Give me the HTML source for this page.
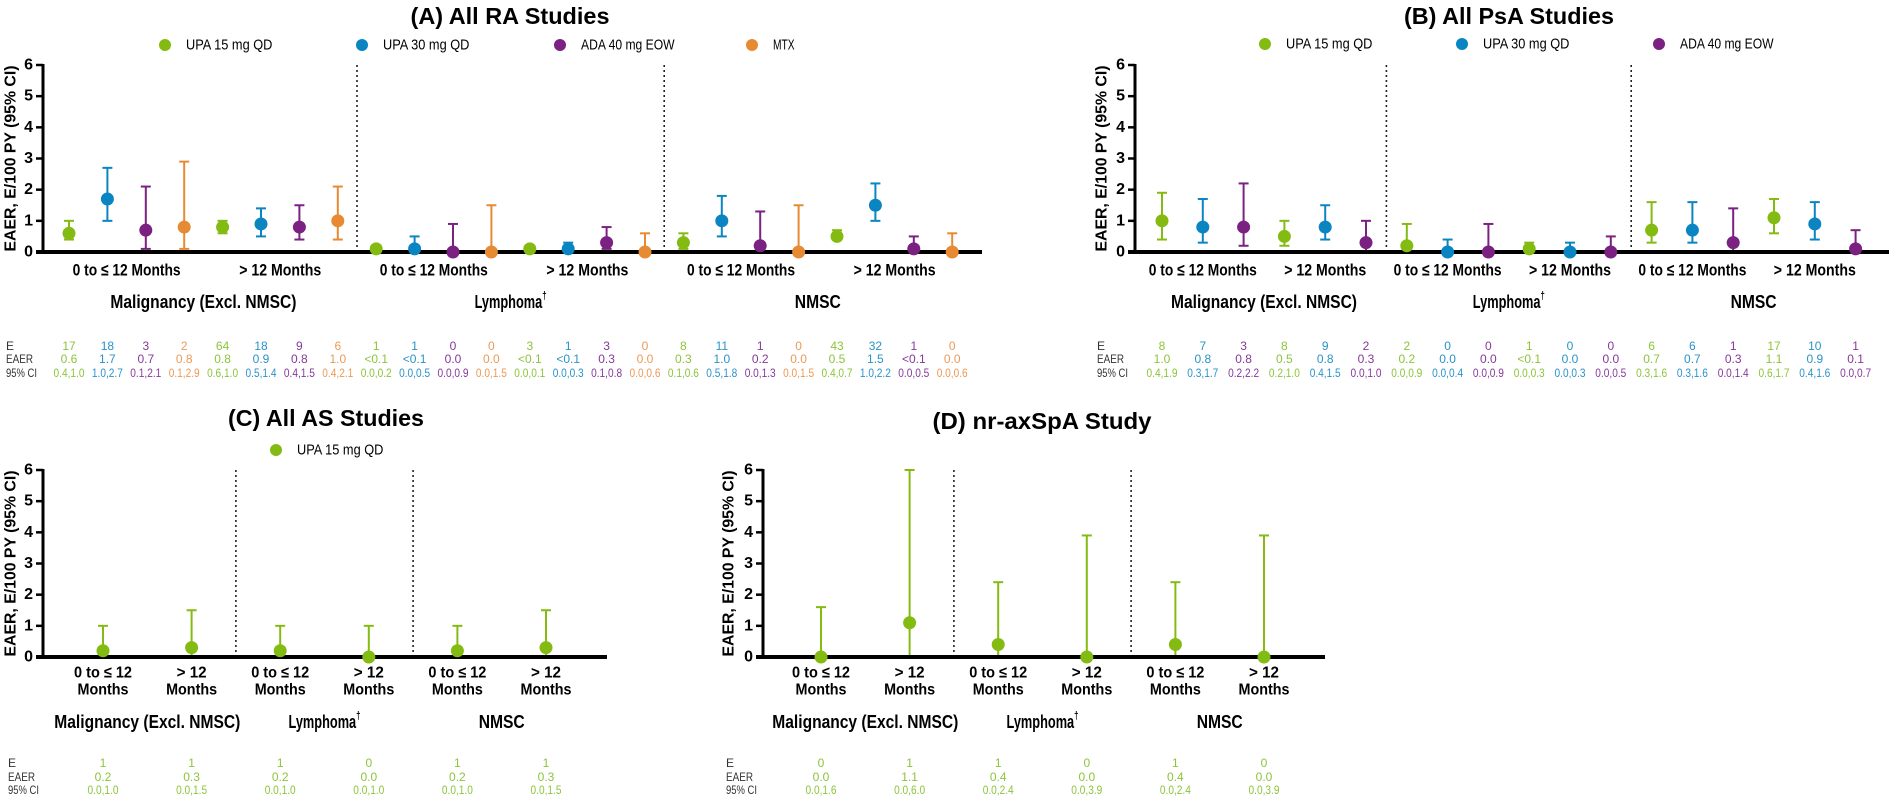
<!DOCTYPE html>
<html><head><meta charset="utf-8">
<style>
html,body{margin:0;padding:0;background:#fff;}
svg{display:block;font-family:"Liberation Sans Narrow","Liberation Sans",sans-serif;}
</style></head>
<body>
<svg id="chart" width="1889" height="800" viewBox="0 0 1889 800" xmlns="http://www.w3.org/2000/svg"></svg>
<script>
// ---------- shared ----------
const categories = ["Malignancy (Excl. NMSC)", "Lymphoma†", "NMSC"];
const periods = ["0 to ≤ 12 Months", "> 12 Months"];
const yTicks = [0, 1, 2, 3, 4, 5, 6];
const seriesNamesA = ["UPA 15 mg QD", "UPA 30 mg QD", "ADA 40 mg EOW", "MTX"];
const seriesNamesB = ["UPA 15 mg QD", "UPA 30 mg QD", "ADA 40 mg EOW"];
const seriesNamesC = ["UPA 15 mg QD"];

// ---------- Panel A (RA) ----------
const aGreenEst = [0.6, 0.8, 0.1, 0.1, 0.3, 0.5];
const aGreenLo  = [0.4, 0.6, 0.0, 0.0, 0.1, 0.4];
const aGreenHi  = [1.0, 1.0, 0.2, 0.1, 0.6, 0.7];
const aBlueEst  = [1.7, 0.9, 0.1, 0.1, 1.0, 1.5];
const aBlueLo   = [1.0, 0.5, 0.0, 0.0, 0.5, 1.0];
const aBlueHi   = [2.7, 1.4, 0.5, 0.3, 1.8, 2.2];
const aPurpEst  = [0.7, 0.8, 0.0, 0.3, 0.2, 0.1];
const aPurpLo   = [0.1, 0.4, 0.0, 0.1, 0.0, 0.0];
const aPurpHi   = [2.1, 1.5, 0.9, 0.8, 1.3, 0.5];
const aOrgEst   = [0.8, 1.0, 0.0, 0.0, 0.0, 0.0];
const aOrgLo    = [0.1, 0.4, 0.0, 0.0, 0.0, 0.0];
const aOrgHi    = [2.9, 2.1, 1.5, 0.6, 1.5, 0.6];
const aGreenE = ["17","64","1","3","8","43"];
const aBlueE  = ["18","18","1","1","11","32"];
const aPurpE  = ["3","9","0","3","1","1"];
const aOrgE   = ["2","6","0","0","0","0"];
const aGreenR = ["0.6","0.8","<0.1","<0.1","0.3","0.5"];
const aBlueR  = ["1.7","0.9","<0.1","<0.1","1.0","1.5"];
const aPurpR  = ["0.7","0.8","0.0","0.3","0.2","<0.1"];
const aOrgR   = ["0.8","1.0","0.0","0.0","0.0","0.0"];
const aGreenCI = ["0.4,1.0","0.6,1.0","0.0,0.2","0.0,0.1","0.1,0.6","0.4,0.7"];
const aBlueCI  = ["1.0,2.7","0.5,1.4","0.0,0.5","0.0,0.3","0.5,1.8","1.0,2.2"];
const aPurpCI  = ["0.1,2.1","0.4,1.5","0.0,0.9","0.1,0.8","0.0,1.3","0.0,0.5"];
const aOrgCI   = ["0.1,2.9","0.4,2.1","0.0,1.5","0.0,0.6","0.0,1.5","0.0,0.6"];

// ---------- Panel B (PsA) ----------
const bGreenEst = [1.0, 0.5, 0.2, 0.1, 0.7, 1.1];
const bGreenLo  = [0.4, 0.2, 0.0, 0.0, 0.3, 0.6];
const bGreenHi  = [1.9, 1.0, 0.9, 0.3, 1.6, 1.7];
const bBlueEst  = [0.8, 0.8, 0.0, 0.0, 0.7, 0.9];
const bBlueLo   = [0.3, 0.4, 0.0, 0.0, 0.3, 0.4];
const bBlueHi   = [1.7, 1.5, 0.4, 0.3, 1.6, 1.6];
const bPurpEst  = [0.8, 0.3, 0.0, 0.0, 0.3, 0.1];
const bPurpLo   = [0.2, 0.0, 0.0, 0.0, 0.0, 0.0];
const bPurpHi   = [2.2, 1.0, 0.9, 0.5, 1.4, 0.7];
const bGreenE = ["8","8","2","1","6","17"];
const bBlueE  = ["7","9","0","0","6","10"];
const bPurpE  = ["3","2","0","0","1","1"];
const bGreenR = ["1.0","0.5","0.2","<0.1","0.7","1.1"];
const bBlueR  = ["0.8","0.8","0.0","0.0","0.7","0.9"];
const bPurpR  = ["0.8","0.3","0.0","0.0","0.3","0.1"];
const bGreenCI = ["0.4,1.9","0.2,1.0","0.0,0.9","0.0,0.3","0.3,1.6","0.6,1.7"];
const bBlueCI  = ["0.3,1.7","0.4,1.5","0.0,0.4","0.0,0.3","0.3,1.6","0.4,1.6"];
const bPurpCI  = ["0.2,2.2","0.0,1.0","0.0,0.9","0.0,0.5","0.0,1.4","0.0,0.7"];

// ---------- Panel C (AS) ----------
const cEst = [0.2, 0.3, 0.2, 0.0, 0.2, 0.3];
const cLo  = [0.0, 0.0, 0.0, 0.0, 0.0, 0.0];
const cHi  = [1.0, 1.5, 1.0, 1.0, 1.0, 1.5];
const cE   = ["1","1","1","0","1","1"];
const cR   = ["0.2","0.3","0.2","0.0","0.2","0.3"];
const cCI  = ["0.0,1.0","0.0,1.5","0.0,1.0","0.0,1.0","0.0,1.0","0.0,1.5"];

// ---------- Panel D (nr-axSpA) ----------
const dEst = [0.0, 1.1, 0.4, 0.0, 0.4, 0.0];
const dLo  = [0.0, 0.0, 0.0, 0.0, 0.0, 0.0];
const dHi  = [1.6, 6.0, 2.4, 3.9, 2.4, 3.9];
const dE   = ["0","1","1","0","1","0"];
const dR   = ["0.0","1.1","0.4","0.0","0.4","0.0"];
const dCI  = ["0.0,1.6","0.0,6.0","0.0,2.4","0.0,3.9","0.0,2.4","0.0,3.9"];

const COL = {green:"#84bb12", blue:"#0a85c2", purple:"#7a2182", orange:"#e68a34"};
const TCOL = {green:"#8cc43a", blue:"#2a93c9", purple:"#86399a", orange:"#eb9a55"};

const NS = "http://www.w3.org/2000/svg";
const svg = document.getElementById("chart");

function mk(tag, attrs, name, parent) {
  const el = document.createElementNS(NS, tag);
  for (const k in attrs) el.setAttribute(k, attrs[k]);
  
  
  (parent || svg).appendChild(el);
  return el;
}
function txt(x, y, s, attrs, name, parent) {
  const a = Object.assign({x: x, y: y, "text-anchor": "middle", "dominant-baseline": "central"}, attrs || {});
  const el = mk("text", a, name, parent);
  el.textContent = s;
  return el;
}

function panel(cfg) {
  const g = mk("g", {}, cfg.id, svg);
  const yScale = v => cfg.base - (v / 6) * (cfg.base - cfg.top);
  const nS = cfg.series.length;
  const xPos = (sub, s) => cfg.x0 + (sub * nS + s) * cfg.step;

  txt(cfg.titleX, cfg.titleY, cfg.title, {"font-size": 23, "font-weight": "bold", textLength: cfg.titleW, lengthAdjust: "spacingAndGlyphs"}, "panel-title", g);

  cfg.series.forEach((s, i) => {
    if (!cfg.legend) return;
    mk("circle", {cx: cfg.legend[i], cy: cfg.legendY, r: 6, fill: COL[s.color]}, "legend-marker-" + s.color, g);
    txt(cfg.legend[i] + 21, cfg.legendY, s.name, {"text-anchor": "start", "font-size": 15, textLength: s.name.length * 7.2, lengthAdjust: "spacingAndGlyphs"}, "legend-entry", g);
  });

  mk("line", {x1: cfg.axisX, y1: cfg.top - 1, x2: cfg.axisX, y2: cfg.base, stroke: "#000", "stroke-width": 3}, "y-axis-line", g);
  yTicks.forEach(t => {
    const y = yScale(t);
    mk("line", {x1: cfg.axisX - 7, y1: y, x2: cfg.axisX, y2: y, stroke: "#000", "stroke-width": 2.5}, "y-tick", g);
    txt(cfg.axisX - 10, y, String(t), {"text-anchor": "end", "font-size": 16, "font-weight": "bold", "font-family": "Liberation Sans, sans-serif"}, "y-tick-label", g);
  });
  const ymid = (cfg.top + cfg.base) / 2;
  txt(cfg.yTitleX, ymid, "EAER, E/100 PY (95% CI)", {"font-size": 16, "font-weight": "bold", "font-family": "Liberation Sans, sans-serif", transform: `rotate(-90 ${cfg.yTitleX} ${ymid})`, textLength: 186, lengthAdjust: "spacingAndGlyphs"}, "y-axis-title", g);

  [1, 2].forEach(k => {
    const x = cfg.x0 + (k * 2 * nS - 0.5) * cfg.step;
    mk("line", {x1: x, y1: cfg.top, x2: x, y2: cfg.base, stroke: "#222", "stroke-width": 1.6, "stroke-dasharray": "2,3"}, "category-divider", g);
  });

  cfg.series.forEach((s, si) => {
    s.est.forEach((v, sub) => {
      const x = xPos(sub, si), c = COL[s.color];
      const yl = yScale(s.lo[sub]), yh = yScale(s.hi[sub]);
      mk("line", {x1: x, y1: yl, x2: x, y2: yh, stroke: c, "stroke-width": 2}, "error-bar", g);
      mk("line", {x1: x - 5, y1: yh, x2: x + 5, y2: yh, stroke: c, "stroke-width": 2}, "error-cap-upper", g);
      mk("line", {x1: x - 5, y1: yl, x2: x + 5, y2: yl, stroke: c, "stroke-width": 2}, "error-cap-lower", g);
    });
  });
  mk("line", {x1: cfg.axisX - 7, y1: cfg.base, x2: cfg.axisEnd, y2: cfg.base, stroke: "#000", "stroke-width": 4}, "x-axis-line", g);
  cfg.series.forEach((s, si) => {
    s.est.forEach((v, sub) => {
      mk("circle", {cx: xPos(sub, si), cy: yScale(v), r: 6.5, fill: COL[s.color]}, "point-" + s.color, g);
    });
  });

  for (let sub = 0; sub < 6; sub++) {
    const cx = (xPos(sub, 0) + xPos(sub, nS - 1)) / 2;
    const p = periods[sub % 2];
    if (cfg.twoLine) {
      const first = sub % 2 === 0 ? "0 to ≤ 12" : "> 12";
      txt(cx, cfg.xlabY, first, {"font-size": 16, "font-weight": "bold", textLength: sub % 2 === 0 ? 58 : 30, lengthAdjust: "spacingAndGlyphs"}, "x-tick-label", g);
      txt(cx, cfg.xlabY + 17, "Months", {"font-size": 16, "font-weight": "bold", textLength: 51, lengthAdjust: "spacingAndGlyphs"}, "x-tick-label", g);
    } else {
      txt(cx, cfg.xlabY, p, {"font-size": 17, "font-weight": "bold", textLength: sub % 2 === 0 ? 108 : 82, lengthAdjust: "spacingAndGlyphs"}, "x-tick-label", g);
    }
  }
  categories.forEach((c, k) => {
    const cx = (xPos(2 * k, 0) + xPos(2 * k + 1, nS - 1)) / 2;
    const w = k === 0 ? 186 : (k === 1 ? 78 : 46);
    const t = txt(cx, cfg.groupY, c.replace("†", ""), {"font-size": 18, "font-weight": "bold", textLength: k === 1 ? w - 6 : w, lengthAdjust: "spacingAndGlyphs"}, "category-label", g);
    if (k === 1) {
      const d = document.createElementNS(NS, "tspan");
      d.setAttribute("font-size", 11);
      d.setAttribute("dy", -6);
      d.textContent = "†";
      t.appendChild(d);
    }
  });

  const rowsY = cfg.rowsY;
  txt(cfg.tabX, rowsY[0], "E", {"text-anchor": "start", "font-size": 12, fill: "#333"}, "table-row-label", g);
  txt(cfg.tabX, rowsY[1], "EAER", {"text-anchor": "start", "font-size": 12, fill: "#333", textLength: 27, lengthAdjust: "spacingAndGlyphs"}, "table-row-label", g);
  txt(cfg.tabX, rowsY[2], "95% CI", {"text-anchor": "start", "font-size": 12, fill: "#333", textLength: 31, lengthAdjust: "spacingAndGlyphs"}, "table-row-label", g);
  cfg.series.forEach((s, si) => {
    for (let sub = 0; sub < 6; sub++) {
      const x = xPos(sub, si), c = TCOL[s.color];
      txt(x, rowsY[0], s.E[sub], {"font-size": 12, fill: c}, "table-e-value", g);
      txt(x, rowsY[1], s.R[sub], {"font-size": 12, fill: c}, "table-eaer-value", g);
      txt(x, rowsY[2], s.CI[sub], {"font-size": 12, fill: c, textLength: 31, lengthAdjust: "spacingAndGlyphs"}, "table-ci-value", g);
    }
  });
}

panel({id: "panel-a-ra", title: "(A) All RA Studies", titleX: 510, titleY: 16, titleW: 199,
  legend: [165, 362, 560, 752], legendY: 45,
  axisX: 43, top: 65, base: 252, x0: 69, step: 38.4, axisEnd: 982, yTitleX: 11,
  xlabY: 270, groupY: 302, rowsY: [346, 359, 373], tabX: 6,
  series: [
    {name: seriesNamesA[0], color: "green", est: aGreenEst, lo: aGreenLo, hi: aGreenHi, E: aGreenE, R: aGreenR, CI: aGreenCI},
    {name: seriesNamesA[1], color: "blue", est: aBlueEst, lo: aBlueLo, hi: aBlueHi, E: aBlueE, R: aBlueR, CI: aBlueCI},
    {name: seriesNamesA[2], color: "purple", est: aPurpEst, lo: aPurpLo, hi: aPurpHi, E: aPurpE, R: aPurpR, CI: aPurpCI},
    {name: seriesNamesA[3], color: "orange", est: aOrgEst, lo: aOrgLo, hi: aOrgHi, E: aOrgE, R: aOrgR, CI: aOrgCI}
  ]});

panel({id: "panel-b-psa", title: "(B) All PsA Studies", titleX: 1509, titleY: 16, titleW: 210,
  legend: [1265, 1462, 1659], legendY: 44,
  axisX: 1135, top: 65, base: 252, x0: 1162, step: 40.8, axisEnd: 1889, yTitleX: 1102,
  xlabY: 270, groupY: 302, rowsY: [346, 359, 373], tabX: 1097,
  series: [
    {name: seriesNamesB[0], color: "green", est: bGreenEst, lo: bGreenLo, hi: bGreenHi, E: bGreenE, R: bGreenR, CI: bGreenCI},
    {name: seriesNamesB[1], color: "blue", est: bBlueEst, lo: bBlueLo, hi: bBlueHi, E: bBlueE, R: bBlueR, CI: bBlueCI},
    {name: seriesNamesB[2], color: "purple", est: bPurpEst, lo: bPurpLo, hi: bPurpHi, E: bPurpE, R: bPurpR, CI: bPurpCI}
  ]});

panel({id: "panel-c-as", title: "(C) All AS Studies", titleX: 326, titleY: 418, titleW: 196,
  legend: [276], legendY: 450,
  axisX: 43, top: 470, base: 657, x0: 103, step: 88.6, axisEnd: 607, yTitleX: 11, twoLine: true,
  xlabY: 673, groupY: 722, rowsY: [763, 777, 790], tabX: 8,
  series: [
    {name: seriesNamesC[0], color: "green", est: cEst, lo: cLo, hi: cHi, E: cE, R: cR, CI: cCI}
  ]});

panel({id: "panel-d-nraxspa", title: "(D) nr-axSpA Study", titleX: 1042, titleY: 421, titleW: 219,
  legend: null, legendY: 0,
  axisX: 763, top: 470, base: 657, x0: 821, step: 88.6, axisEnd: 1325, yTitleX: 729, twoLine: true,
  xlabY: 673, groupY: 722, rowsY: [763, 777, 790], tabX: 726,
  series: [
    {name: seriesNamesC[0], color: "green", est: dEst, lo: dLo, hi: dHi, E: dE, R: dR, CI: dCI}
  ]});
</script>
</body></html>
